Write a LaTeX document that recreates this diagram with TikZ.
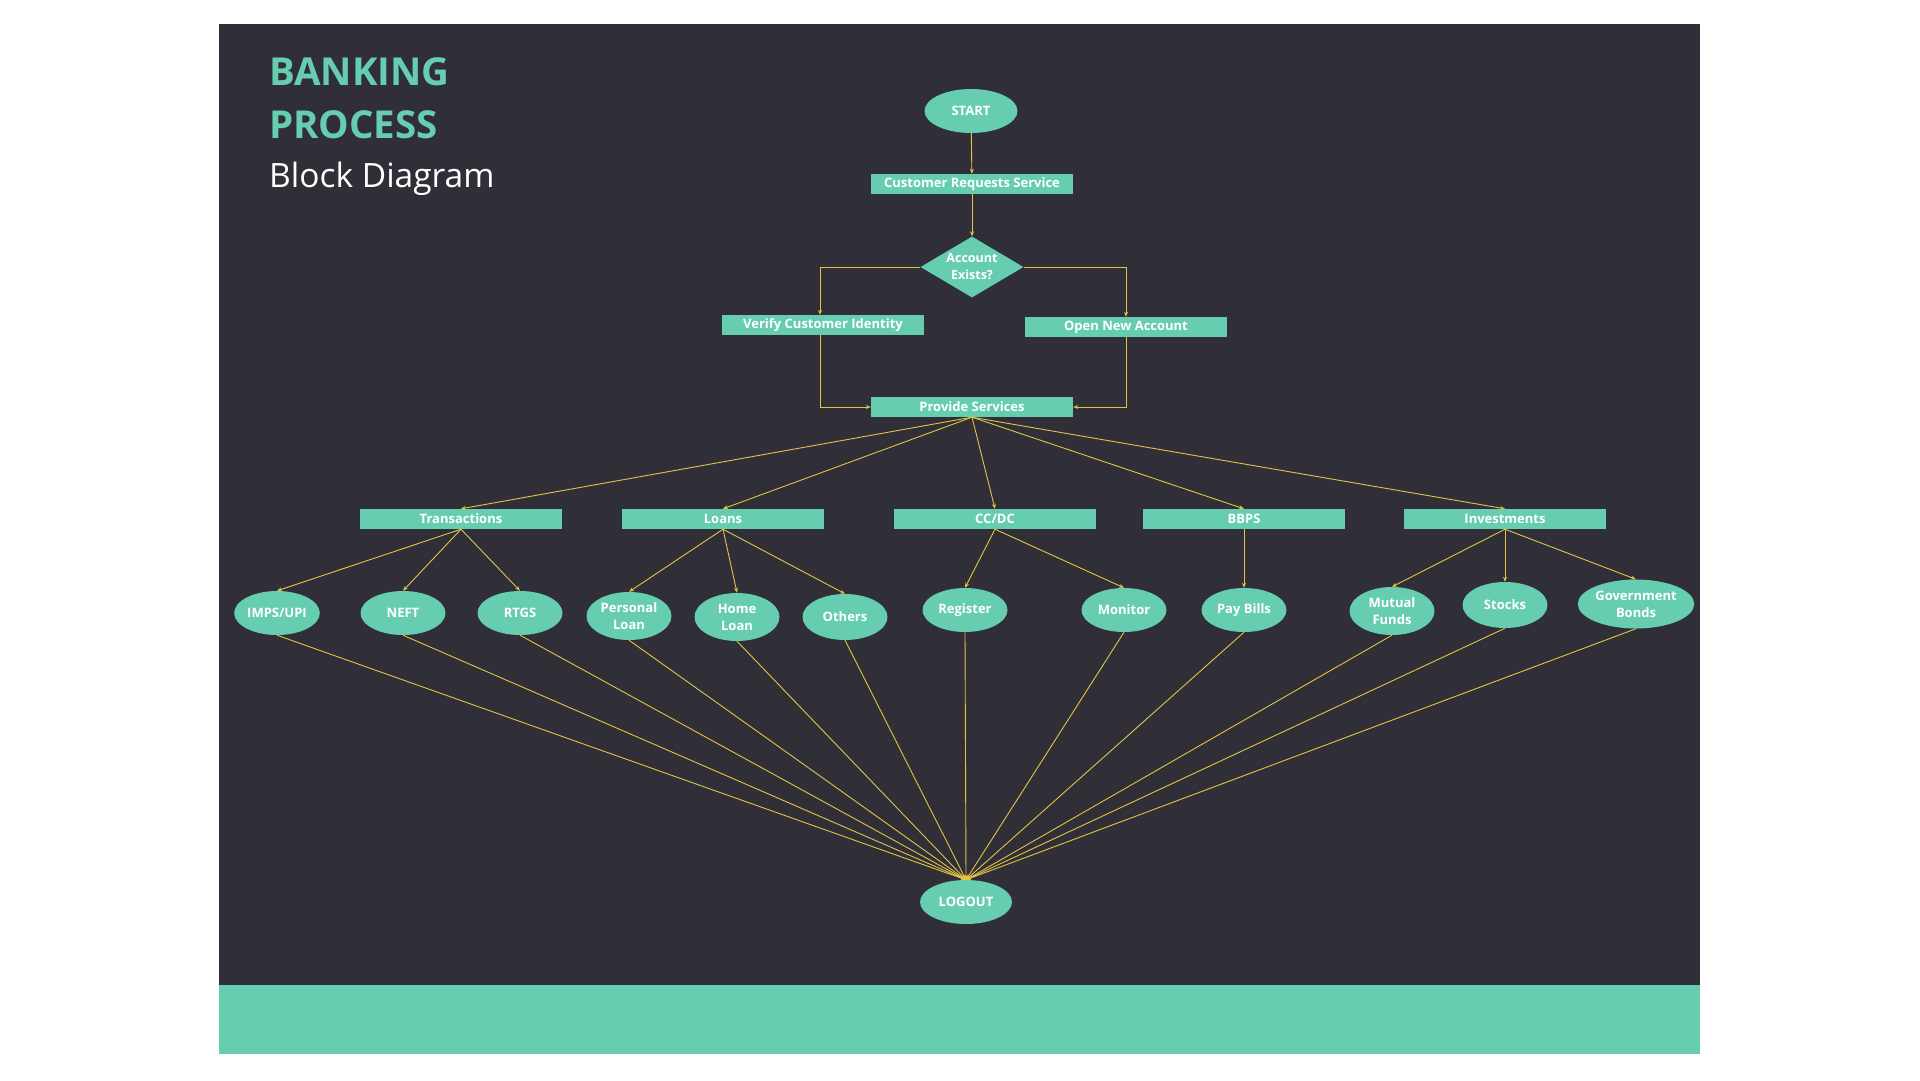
\documentclass[tikz,border=0pt]{standalone}
\usepackage{fontspec}
\setmainfont{Open Sans}
\usetikzlibrary{positioning,shapes.geometric,arrows.meta}
\definecolor{bgdark}{HTML}{302F38}
\definecolor{mint}{HTML}{66CDB0}
\definecolor{linkyellow}{HTML}{E2C444}

\begin{document}
\begin{tikzpicture}[x=1pt, y=-1pt,
    every node/.style={text=white, font=\bfseries\fontsize{13}{17}\selectfont, align=center},
    box/.style={rectangle, fill=mint, minimum width=202pt, minimum height=20pt, inner sep=0pt},
    oval/.style={ellipse, fill=mint, minimum width=85pt, minimum height=44pt, inner sep=0.5pt},
    title/.style={anchor=base west, inner sep=0pt, align=left},
    link/.style={draw=linkyellow, line width=0.9pt, -{Stealth[length=5pt,width=4pt]}}
]
% page and panels
\fill[white] (0,0) rectangle (1920,1080);
\fill[bgdark] (219,24) rectangle (1700,985);
\fill[mint] (219,985) rectangle (1700,1054);

% title
\node[title, text=mint, font=\bfseries\fontsize{38.5}{40}\selectfont] (ttlA) at (269,85) {BANKING};
\node[title, text=mint, font=\bfseries\fontsize{38.5}{40}\selectfont] (ttlB) at (269,138) {PROCESS};
\node[title, font=\fontsize{33.5}{40}\selectfont] (ttlC) at (269,187) {Block Diagram};

% main flow
\node[oval, minimum width=93pt] (start) at (971,111) {START};
\node[box] (request) at (972,184) {Customer Requests Service};
\node[diamond, fill=mint, aspect=1.69, minimum width=103pt, minimum height=61pt, inner sep=-1pt,
      font=\bfseries\fontsize{12.5}{17}\selectfont] (exists) at (972,267) {Account\\Exists?};
\node[box] (verify) at (823,325) {Verify Customer Identity};
\node[box] (open) at (1126,327) {Open New Account};
\node[box] (provide) at (972,407) {Provide Services};

% services
\node[box] (trans) at (461,519) {Transactions};
\node[box] (loans) at (723,519) {Loans};
\node[box] (cards) at (995,519) {CC/DC};
\node[box] (bbps) at (1244,519) {BBPS};
\node[box] (invest) at (1505,519) {Investments};

% leaves
\node[oval] (imps) at (277,613) {IMPS/UPI};
\node[oval] (neft) at (403,613) {NEFT};
\node[oval] (rtgs) at (520,613) {RTGS};
\node[oval, minimum height=48pt] (personal) at (629,616) {Personal\\Loan};
\node[oval, minimum height=48pt] (home) at (737,617) {Home\\Loan};
\node[oval, minimum height=46pt] (others) at (845,617) {Others};
\node[oval] (register) at (965,610) {Register};
\node[oval] (monitor) at (1124,610) {Monitor};
\node[oval] (paybills) at (1244,610) {Pay Bills};
\node[oval, minimum height=48pt] (mutual) at (1392,611) {Mutual\\Funds};
\node[oval, minimum height=46pt] (stocks) at (1505,605) {Stocks};
\node[oval, minimum width=110pt, minimum height=49pt] (govt) at (1636,604) {Government\\Bonds};

\node[oval, minimum width=92pt] (logout) at (966,902) {LOGOUT};

% connectors
\draw[link] (start) -- (request);
\draw[link] (request) -- (exists);
\draw[link] (exists.west) -| (verify.north -| 820,0);
\draw[link] (exists.east) -| (open.north);
\draw[link] (verify.south -| 820,0) |- (provide.west);
\draw[link] (open.south) |- (provide.east);

\foreach \s in {trans,loans,cards,bbps,invest}
    \draw[link] (provide.south) -- (\s.north);

\foreach \s in {imps,neft,rtgs}
    \draw[link] (trans.south) -- (\s.north);
\foreach \s in {personal,home,others}
    \draw[link] (loans.south) -- (\s.north);
\foreach \s in {register,monitor}
    \draw[link] (cards.south) -- (\s.north);
\draw[link] (bbps.south) -- (paybills.north);
\foreach \s in {mutual,stocks,govt}
    \draw[link] (invest.south) -- (\s.north);

\foreach \s in {imps,neft,rtgs,personal,home,others,register,monitor,paybills,mutual,stocks,govt}
    \draw[link] (\s.south) -- (logout.north);
\end{tikzpicture}
\end{document}
